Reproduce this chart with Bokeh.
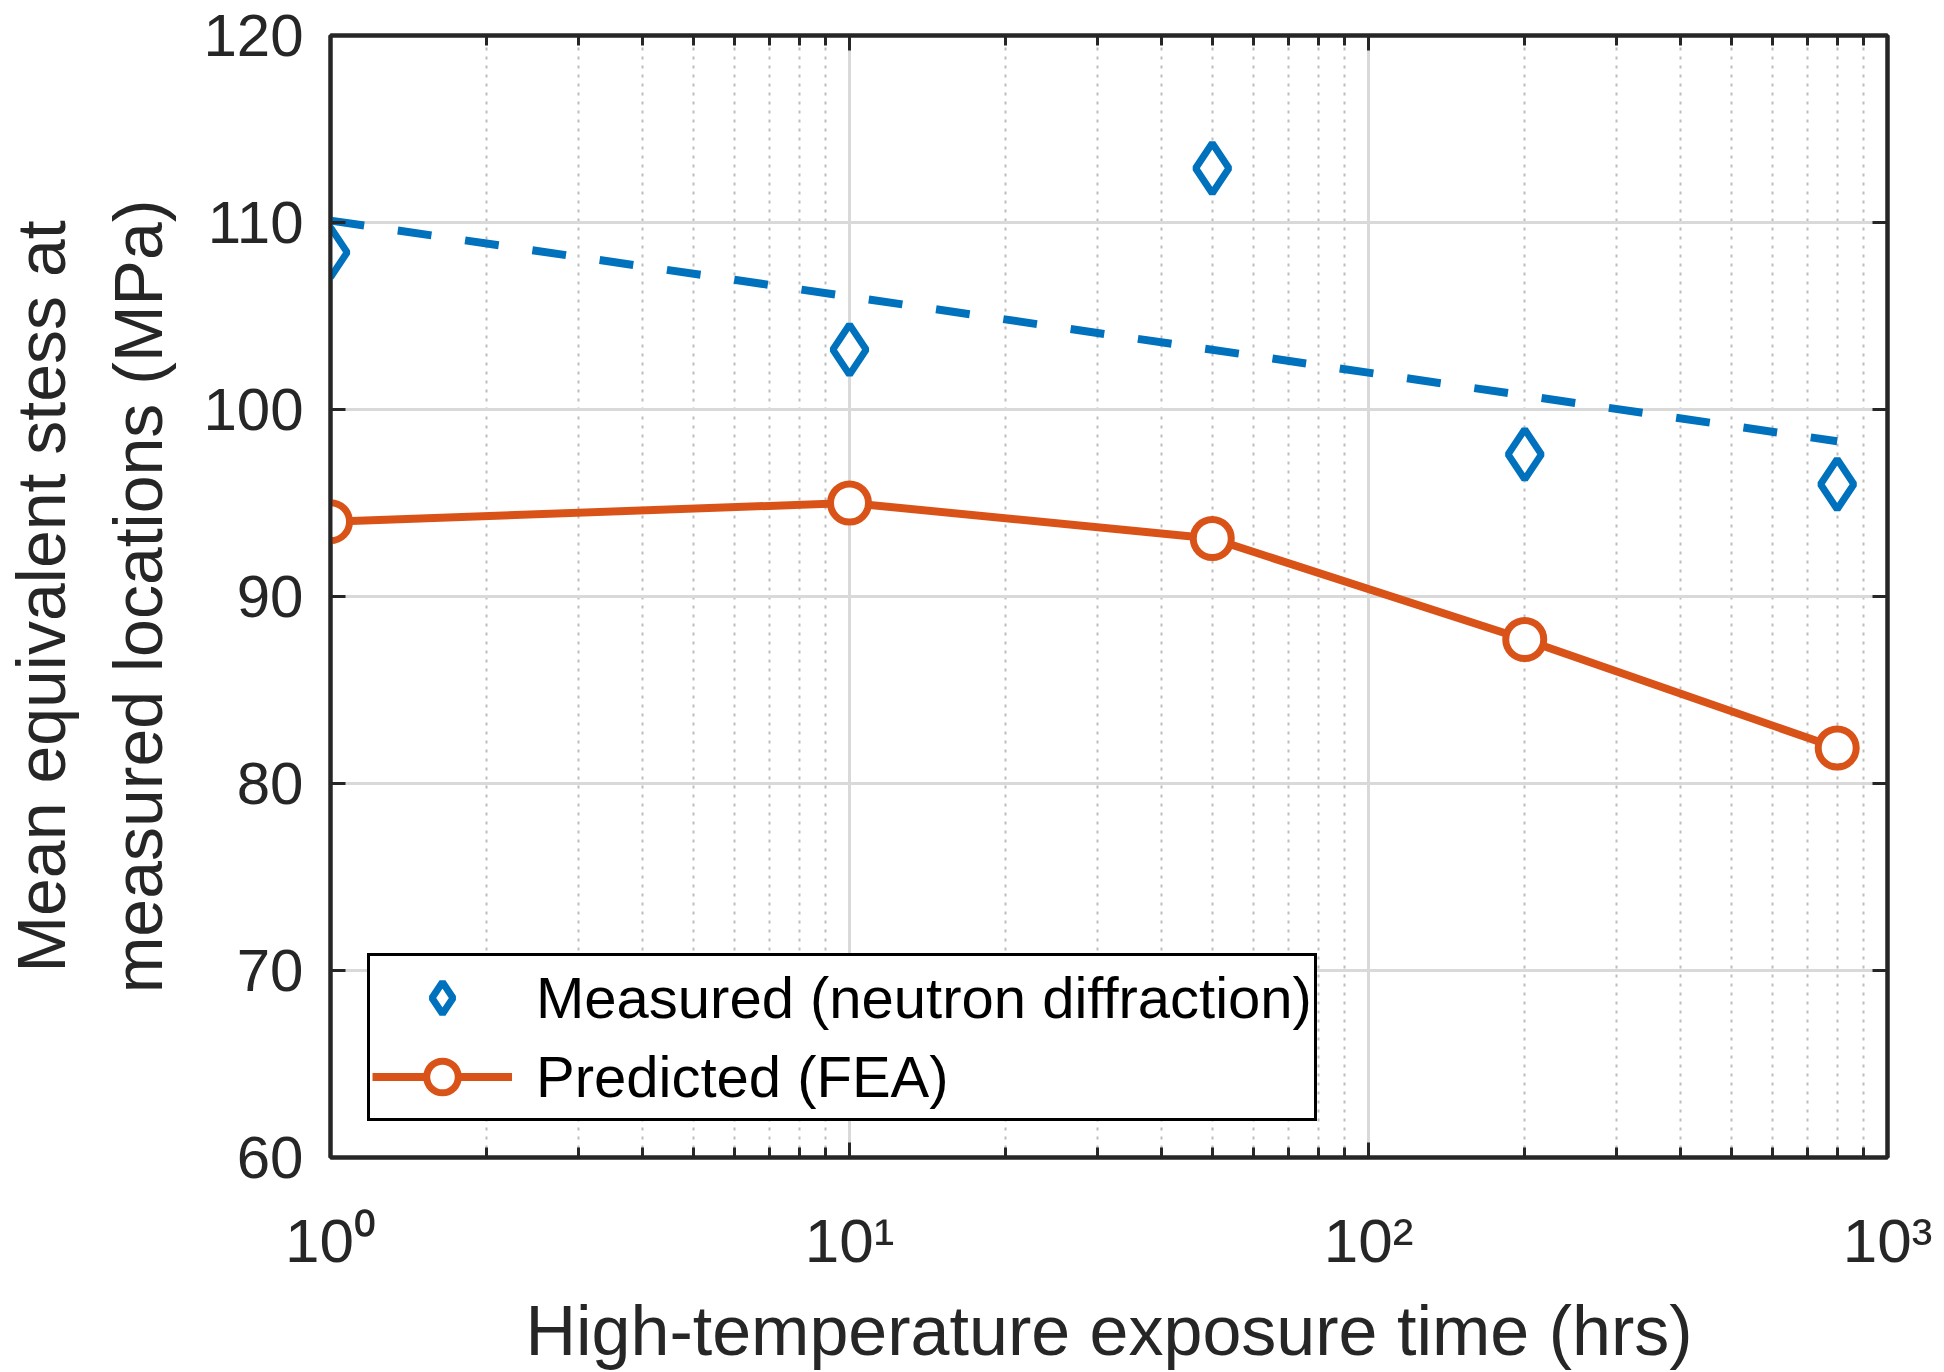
from bokeh.plotting import figure
from bokeh.models import Range1d, LinearAxis, LogAxis, FixedTicker, Legend, LegendItem
from bokeh.embed import file_html
from bokeh.resources import INLINE

# ---- data ----
time_hrs = [1, 10, 50, 200, 800]
measured_stress = [108.4, 103.2, 112.9, 97.6, 96.0]
predicted_stress = [94.0, 95.0, 93.1, 87.7, 81.9]
fit_time = [1, 800]
fit_stress = [110.1, 98.3]

y_ticks = [60, 70, 80, 90, 100, 110, 120]
x_major = [1, 10, 100, 1000]
x_minor = [m * 10 ** d for d in range(3) for m in range(2, 10)]
x_tick_labels = ["10\u2070", "10\u00b9", "10\u00b2", "10\u00b3"]

BLUE = "#0072BD"
ORANGE = "#D95319"
AX = "#262626"
FONT = "Liberation Sans"

p = figure(width=1944, height=1372, x_axis_type="log",
           x_range=Range1d(1, 1000), y_range=Range1d(60, 120),
           output_backend="svg", toolbar_location=None,
           min_border_left=330, min_border_right=57,
           min_border_top=35, min_border_bottom=214)
p.background_fill_color = "white"
p.border_fill_color = "white"
p.outline_line_color = AX
p.outline_line_width = 4

xticker = FixedTicker(ticks=x_major, minor_ticks=x_minor)
yticker = FixedTicker(ticks=y_ticks, minor_ticks=[])

# grids
p.xgrid.ticker = xticker
p.ygrid.ticker = yticker
p.xgrid.grid_line_color = "#d9d9d9"
p.xgrid.grid_line_width = 3
p.xgrid.minor_grid_line_color = "#bdbdbd"
p.xgrid.minor_grid_line_dash = "3 6"
p.xgrid.minor_grid_line_width = 2
p.ygrid.grid_line_color = "#d9d9d9"
p.ygrid.grid_line_width = 3

# bottom axis
xa = p.xaxis[0]
xa.ticker = xticker
xa.major_label_overrides = {t: s for t, s in zip(x_major, x_tick_labels)}
xa.major_label_text_font = FONT
xa.major_label_text_font_size = "62px"
xa.major_label_text_color = AX
xa.major_label_standoff = 48
xa.axis_label = "High-temperature exposure time (hrs)"
xa.axis_label_text_font = FONT
xa.axis_label_text_font_size = "70px"
xa.axis_label_text_font_style = "normal"
xa.axis_label_text_color = AX
xa.axis_label_standoff = 14

# left axis
ya = p.yaxis[0]
ya.ticker = yticker
ya.major_label_text_font = FONT
ya.major_label_text_font_size = "60px"
ya.major_label_text_color = AX
ya.major_label_standoff = 27
ya.axis_label = "Mean equivalent stess at\nmeasured locations (MPa)"
ya.axis_label_text_font = FONT
ya.axis_label_text_font_size = "68px"
ya.axis_label_text_font_style = "normal"
ya.axis_label_text_color = AX
ya.axis_label_text_line_height = 1.28
ya.axis_label_standoff = 24

top = LogAxis(ticker=xticker, major_label_text_font_size="1px",
              major_label_text_color=None, major_label_standoff=0)
right = LinearAxis(ticker=yticker, major_label_text_font_size="1px",
                   major_label_text_color=None, major_label_standoff=0)
p.add_layout(top, "above")
p.add_layout(right, "right")

for ax in (xa, top):
    ax.minor_tick_in = 10
    ax.minor_tick_out = 0
    ax.minor_tick_line_width = 3
    ax.minor_tick_line_color = AX
for ax in (ya, right):
    ax.minor_tick_line_color = None
for ax in (xa, ya, top, right):
    ax.axis_line_color = AX
    ax.axis_line_width = 4
    ax.major_tick_in = 15
    ax.major_tick_out = 0
    ax.major_tick_line_width = 3
    ax.major_tick_line_color = AX

# data
fit_r = p.line(fit_time, fit_stress, line_color=BLUE, line_width=8, line_dash="34 34")
meas_r = p.scatter(time_hrs, measured_stress, marker="diamond", size=50,
                   line_color=BLUE, line_width=7, fill_color="white")
pred_line = p.line(time_hrs, predicted_stress, line_color=ORANGE, line_width=8)
pred_r = p.scatter(time_hrs, predicted_stress, marker="circle", size=38,
                   line_color=ORANGE, line_width=7, fill_color="white")

legend = Legend(items=[
    LegendItem(label="Measured (neutron diffraction)", renderers=[meas_r]),
    LegendItem(label="Predicted (FEA)", renderers=[pred_line, pred_r]),
], location=(37, 36))
legend.label_text_font = FONT
legend.label_text_font_size = "58px"
legend.label_text_color = "black"
legend.glyph_width = 140
legend.glyph_height = 79
legend.spacing = -4
legend.padding = 2
legend.label_standoff = 24
legend.border_line_color = "black"
legend.border_line_alpha = 1.0
legend.border_line_width = 3
legend.background_fill_color = "white"
legend.background_fill_alpha = 1.0
legend.margin = 0
p.add_layout(legend, "center")

open("out.html", "w").write(file_html(p, INLINE))
